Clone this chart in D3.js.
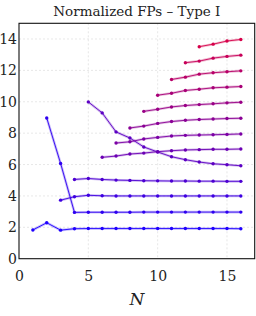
<!DOCTYPE html>
<html>
<head>
<meta charset="utf-8">
<script src="https://cdn.jsdelivr.net/npm/d3@7"></script>
<style>
html,body{margin:0;padding:0;background:#fff;}
svg{display:block;}
text{font-family:"DejaVu Serif",serif;fill:#222;}
</style>
</head>
<body>
<div id="chart"></div>
<script>
const title = "Normalized FPs – Type I";
const xLabel = "N";
const xTicks = [0, 5, 10, 15];
const yTicks = [0, 2, 4, 6, 8, 10, 12, 14];
const xGrid = [5, 10, 15];
const yGrid = [2, 4, 6, 8, 10, 12, 14];

// starting N of each series
const seriesStart = [1, 2, 3, 4, 5, 6, 7, 8, 9, 10, 11, 12, 13];
const s1  = [1.83, 2.29, 1.82, 1.91, 1.92, 1.92, 1.92, 1.92, 1.92, 1.92, 1.92, 1.92, 1.92, 1.92, 1.92, 1.91];
const s2  = [8.97, 6.07, 2.95, 2.96, 2.96, 2.96, 2.96, 2.97, 2.97, 2.97, 2.97, 2.97, 2.97, 2.97, 2.97];
const s3  = [3.73, 3.95, 4.04, 4.01, 4.00, 4.00, 4.00, 4.00, 4.00, 4.00, 4.00, 4.00, 4.00, 4.00];
const s4  = [5.05, 5.11, 5.05, 5.01, 4.99, 4.97, 4.96, 4.95, 4.95, 4.94, 4.94, 4.93, 4.93];
const s5  = [9.99, 9.29, 8.08, 7.69, 7.12, 6.80, 6.50, 6.31, 6.16, 6.05, 5.99, 5.92];
const s6  = [6.46, 6.54, 6.67, 6.73, 6.82, 6.88, 6.93, 6.95, 6.97, 6.97, 6.99];
const s7  = [7.37, 7.45, 7.63, 7.73, 7.82, 7.86, 7.88, 7.90, 7.92, 7.95];
const s8  = [8.33, 8.45, 8.62, 8.74, 8.82, 8.87, 8.90, 8.93, 8.95];
const s9  = [9.39, 9.52, 9.67, 9.76, 9.82, 9.87, 9.93, 9.97];
const s10 = [10.42, 10.54, 10.72, 10.80, 10.89, 10.93, 10.97];
const s11 = [11.42, 11.57, 11.76, 11.85, 11.91, 11.97];
const s12 = [12.49, 12.59, 12.78, 12.89, 12.97];
const s13 = [13.51, 13.67, 13.87, 13.97];
const seriesValues = [s1, s2, s3, s4, s5, s6, s7, s8, s9, s10, s11, s12, s13];

const W = 256, H = 316;
const m = {left: 19, right: 1.3, top: 23.3, bottom: 57.3};

const svg = d3.select("#chart").append("svg").attr("width", W).attr("height", H);

const x = d3.scaleLinear().domain([0, 17]).range([m.left, W - m.right]);
const y = d3.scaleLinear().domain([0, 15]).range([H - m.bottom, m.top]);

const color = d3.interpolateRgb("#1f00ff", "#d6004a");

// grid
svg.append("g").selectAll("line").data(xGrid).join("line")
  .attr("x1", d => x(d)).attr("x2", d => x(d))
  .attr("y1", y(15)).attr("y2", y(0))
  .attr("stroke", "#dcdcdc").attr("stroke-width", 0.7).attr("stroke-dasharray", "2,2");
svg.append("g").selectAll("line").data(yGrid).join("line")
  .attr("y1", d => y(d)).attr("y2", d => y(d))
  .attr("x1", x(0)).attr("x2", x(17))
  .attr("stroke", "#dcdcdc").attr("stroke-width", 0.7).attr("stroke-dasharray", "2,2");

// axes (labels only, frame drawn separately)
const xAxis = d3.axisBottom(x).tickValues(xTicks).tickSize(0).tickPadding(6).tickFormat(d3.format("d"));
const gx = svg.append("g").attr("transform", `translate(0,${y(0)})`).call(xAxis);
gx.select(".domain").remove();
gx.selectAll("text").attr("font-size", 14).attr("font-family", "DejaVu Serif").attr("fill", "#222").attr("dy", "0.75em").attr("y", 12);

const yAxis = d3.axisLeft(y).tickValues(yTicks).tickSize(0).tickPadding(2).tickFormat(d3.format("d"));
const gy = svg.append("g").attr("transform", `translate(${x(0)},0)`).call(yAxis);
gy.select(".domain").remove();
gy.selectAll("text").attr("font-size", 14).attr("font-family", "DejaVu Serif").attr("fill", "#222");

// series
const line = d3.line().x(d => x(d[0])).y(d => y(d[1]));
const series = seriesValues.map((vals, i) => ({
  i, pts: vals.map((v, j) => [seriesStart[i] + j, v])
}));

const gs = svg.append("g");
series.forEach(s => {
  const c = color(s.i / (series.length - 1));
  gs.append("path").datum(s.pts).attr("d", line)
    .attr("fill", "none").attr("stroke", c).attr("stroke-width", 2.6).attr("stroke-opacity", 0.25);
  gs.append("path").datum(s.pts).attr("d", line)
    .attr("fill", "none").attr("stroke", c).attr("stroke-width", 0.9);
  gs.append("g").selectAll("circle").data(s.pts).join("circle")
    .attr("cx", d => x(d[0])).attr("cy", d => y(d[1])).attr("r", 1.7).attr("fill", c);
});

// frame
svg.append("rect").attr("x", x(0)).attr("y", y(15))
  .attr("width", x(17) - x(0)).attr("height", y(0) - y(15))
  .attr("fill", "none").attr("stroke", "#111").attr("stroke-width", 1.1);

// title
svg.append("text").attr("x", (x(0) + x(17)) / 2).attr("y", 15.5)
  .attr("text-anchor", "middle").attr("font-size", 13.5).text(title);

// x label
svg.append("text").attr("x", (x(0) + x(17)) / 2).attr("y", 305)
  .attr("text-anchor", "middle").attr("font-size", 17).attr("font-style", "italic").text(xLabel);
</script>
</body>
</html>
